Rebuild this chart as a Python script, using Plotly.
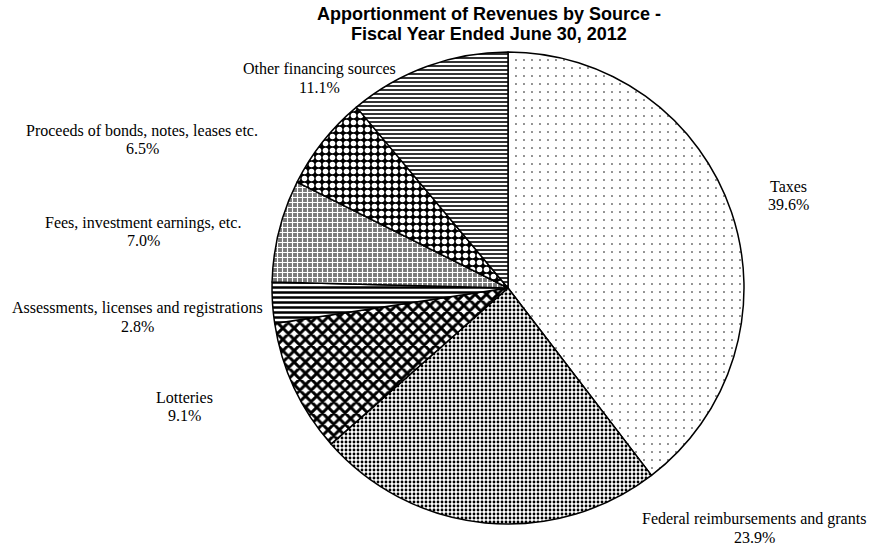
import plotly.graph_objects as go

labels = ["Taxes", "Federal reimbursements and grants", "Lotteries",
          "Assessments, licenses and registrations", "Fees, investment earnings, etc.",
          "Proceeds of bonds, notes, leases etc.", "Other financing sources"]
values = [39.6, 23.9, 9.1, 2.8, 7.0, 6.5, 11.1]
title_lines = ["Apportionment of Revenues by Source -", "Fiscal Year Ended June 30, 2012"]

shapes = [".", ".", "x", "-", "+", ".", "-"]
sizes = [8, 4, 8, 5, 5, 7, 4]
solid = [0.03, 0.4, 0.6, 0.5, 0.4, 0.5, 0.4]
fgs = ["black", "black", "black", "black", "white", "white", "black"]
bgs = ["white", "white", "white", "white", "#7a7a7a", "black", "white"]

W, H = 870, 554
# label block centres (screen pixels)
label_pos = [(788, 195), (754, 528), (184, 406), (137, 317), (143, 232), (142, 139), (319, 78)]
cx, cy, r = 508, 288, 236


def px(x):
    return x / W


def py(y):
    return 1 - y / H


fig = go.Figure(go.Pie(
    labels=labels, values=values, sort=False, direction="clockwise", rotation=0,
    textinfo="none", hoverinfo="label+percent", showlegend=False,
    marker=dict(colors=bgs, line=dict(color="black", width=1.5),
                pattern=dict(shape=shapes, size=sizes, solidity=solid,
                             fgcolor=fgs, bgcolor=bgs, fillmode="replace")),
    domain=dict(x=[px(cx - r), px(cx + r)], y=[py(cy + r), py(cy - r)]),
))

lab_font = dict(family="Liberation Serif", size=16, color="black")
for lab, v, (lx, ly) in zip(labels, values, label_pos):
    for txt, dy in ((lab, -9), (f"{v:.1f}%", 9)):
        fig.add_annotation(x=px(lx), y=py(ly + dy), xref="paper", yref="paper",
                           text=txt, showarrow=False, font=lab_font,
                           xanchor="center", yanchor="middle")

for txt, ty in zip(title_lines, (14, 34)):
    fig.add_annotation(x=px(489), y=py(ty), xref="paper", yref="paper",
                       text=f"<b>{txt}</b>", showarrow=False,
                       xanchor="center", yanchor="middle",
                       font=dict(family="Liberation Sans", size=18, color="black"))

fig.update_layout(width=W, height=H, margin=dict(l=0, r=0, t=0, b=0),
                  paper_bgcolor="white", plot_bgcolor="white")
fig.write_html("out.html", config={"displayModeBar": False},
               post_script="document.body.style.margin='0';document.body.style.overflow='hidden';")
